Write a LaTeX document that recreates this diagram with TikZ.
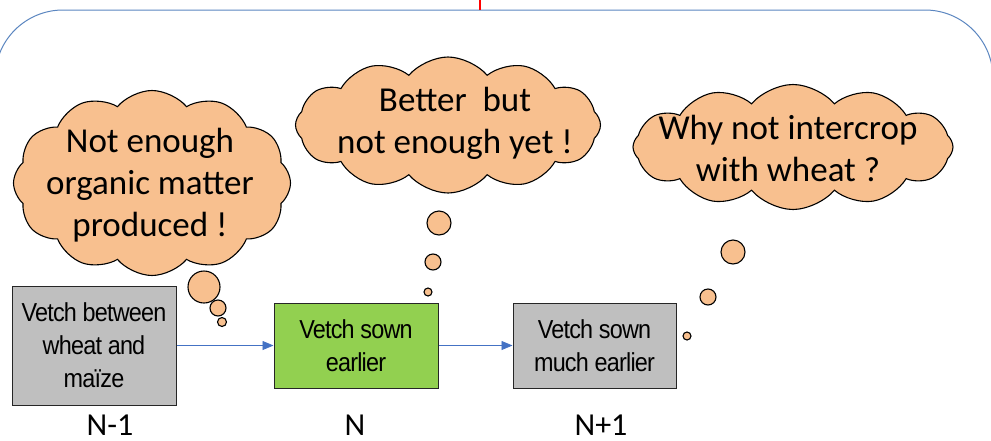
\documentclass[tikz,border=0pt]{standalone}
\usepackage{fontspec}
\setmainfont{Carlito}
\newfontfamily\boxfont[FakeStretch=0.9,LetterSpace=-3]{Liberation Sans}
\usetikzlibrary{shapes.symbols,arrows.meta}
\definecolor{puff}{HTML}{F8C08F}
\definecolor{stagegray}{HTML}{BFBFBF}
\definecolor{stagegreen}{HTML}{92D050}
\definecolor{flowblue}{HTML}{4472C4}
\definecolor{framecol}{HTML}{5B86C0}
\begin{document}
\begin{tikzpicture}[x=1pt,y=-1pt,
  thought/.style={cloud, cloud puffs=#1, cloud puff arc=100, draw=black, line width=1.1pt, fill=puff, inner sep=0pt, cloud ignores aspect},
  bubble/.style={circle, draw=black, line width=1.1pt, fill=puff, inner sep=0pt, minimum size=#1},
  stagebox/.style={draw=black!85, line width=1pt, inner sep=0pt, align=center,
    font=\boxfont\fontsize{26}{33}\selectfont},
  flow/.style={-{Triangle[length=11pt,width=9pt]}, draw=flowblue, line width=0.8pt},
  year/.style={anchor=base, inner sep=0pt, text depth=0pt, font=\fontsize{32}{36}\selectfont},
  saying/.style={align=center, font=\fontsize{35}{42}\selectfont}]
\useasboundingbox (0,0) rectangle (991,440);

% outer frame and the red marker above it
\draw[framecol, line width=1pt, rounded corners=68pt] (-5,520) -- (-5,10) -- (993,10) -- (993,520);
\draw[red, line width=2.5pt] (480,0) -- (480,10);

% thought clouds
\node[thought=12, minimum width=277pt, minimum height=185pt] (cloudA) at (152,183) {};
\node[thought=12, minimum width=305pt, minimum height=136pt] (cloudB) at (448,125) {};
\node[thought=12, minimum width=320pt, minimum height=125pt] (cloudC) at (793,147) {};

\node[saying] (sayA) at (150,185) {Not enough\\organic matter\\produced !};
\node[saying] (sayB) at (455,123) {Better\ \ but\\not enough yet !};
\node[saying] (sayC) at (788,148) {Why not intercrop\\with wheat ?};

% trailing bubbles
\node[bubble=32pt] (a1) at (204,287) {};
\node[bubble=16pt] (a2) at (218,308) {};
\node[bubble=9pt]  (a3) at (222,322) {};
\node[bubble=24pt] (b1) at (439,223) {};
\node[bubble=16pt] (b2) at (433,262) {};
\node[bubble=8pt]  (b3) at (428,292) {};
\node[bubble=24pt] (c1) at (733,252) {};
\node[bubble=16pt] (c2) at (708,297) {};
\node[bubble=8pt]  (c3) at (687,336) {};

% stages
\node[stagebox, fill=stagegray, minimum width=164pt, minimum height=119pt] (s1) at (94,345.5)
  {Vetch between\\wheat and\\maïze};
\node[stagebox, fill=stagegreen, minimum width=164pt, minimum height=85pt] (s2) at (356,345.5)
  {Vetch sown\\earlier};
\node[stagebox, fill=stagegray, minimum width=163pt, minimum height=85pt] (s3) at (594.5,345.5)
  {Vetch sown\\much earlier};

\draw[flow] (s1) -- (s2);
\draw[flow] (s2) -- (s3);

\node[year] (y1) at (110,435) {N-1};
\node[year] (y2) at (355,435) {N};
\node[year] (y3) at (601,435) {N+1};
\end{tikzpicture}
\end{document}
